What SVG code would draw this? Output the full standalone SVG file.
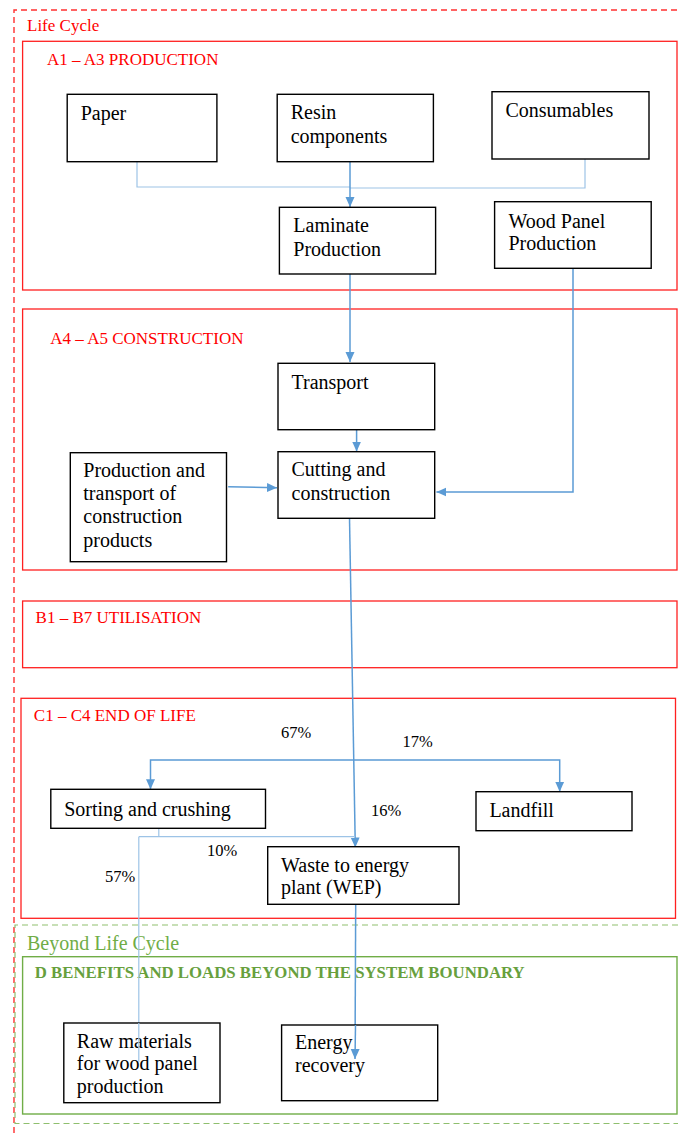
<svg xmlns="http://www.w3.org/2000/svg" width="678" height="1133" viewBox="0 0 678 1133">
<defs>
<marker id="ah" markerUnits="userSpaceOnUse" markerWidth="10" markerHeight="10" viewBox="0 0 10 10" refX="10" refY="5" orient="auto">
<path d="M0,0.5 L10,5 L0,9.5 Z" fill="#5B9BD5"/>
</marker>
<style>
.box{fill:#fff;stroke:#000;stroke-width:1.4}
.t{font-family:"Liberation Serif","Times New Roman",serif;font-size:20px;fill:#000}
.p{font-family:"Liberation Serif","Times New Roman",serif;font-size:16.5px;fill:#000}
.rl{font-family:"Liberation Serif","Times New Roman",serif;font-size:17px;fill:#FF0000}
.stage{fill:none;stroke:#FF2020;stroke-width:1.3}
.c{fill:none;stroke:#5B9BD5;stroke-width:1.5}
.cl{fill:none;stroke:#9DC3E6;stroke-width:1.2}
.ca{fill:none;stroke:#5B9BD5;stroke-width:1.5;marker-end:url(#ah)}
</style>
</defs>
<rect width="678" height="1133" fill="#fff"/>

<g id="lifecycle">
<path d="M14,1133 V10 H678" fill="none" stroke="#FF3030" stroke-width="1.4" stroke-dasharray="6,4"/>
<text x="27" y="31" class="rl" font-size="16.2">Life Cycle</text>
</g>

<g id="beyond">
<path d="M678,925 H15 V1123.5 H678" fill="none" stroke="#8FBF6E" stroke-width="1.2" stroke-dasharray="6,4"/>
<text x="27" y="949.5" font-family="Liberation Serif, serif" font-size="20" fill="#70AD47">Beyond Life Cycle</text>
</g>

<g id="stage-a1a3">
<rect x="22.6" y="41.3" width="654.4" height="248.7" class="stage"/>
<text x="47" y="65" class="rl">A1 – A3 PRODUCTION</text>
</g>
<g id="stage-a4a5">
<rect x="22.6" y="309" width="654.4" height="261" class="stage"/>
<text x="50.3" y="344" class="rl">A4 – A5 CONSTRUCTION</text>
</g>
<g id="stage-b1b7">
<rect x="22.6" y="601" width="654.4" height="66.7" class="stage"/>
<text x="35.6" y="623.3" class="rl">B1 – B7 UTILISATION</text>
</g>
<g id="stage-c1c4">
<rect x="21" y="698.3" width="654.5" height="220" class="stage"/>
<text x="33.8" y="721" class="rl">C1 – C4 END OF LIFE</text>
</g>
<g id="stage-d">
<rect x="22.6" y="956.7" width="654.4" height="157.3" fill="none" stroke="#70AD47" stroke-width="1.4"/>
<text x="34.7" y="978.3" font-family="Liberation Serif, serif" font-size="16.8" font-weight="bold" fill="#67A03D">D BENEFITS AND LOADS BEYOND THE SYSTEM BOUNDARY</text>
</g>

<g id="connectors">
<path d="M137,162 V187 H350" class="cl"/>
<path d="M585,159 V188 H350" class="cl"/>
<path d="M350,162 V207" class="ca"/>
<path d="M350,274 V362" class="ca"/>
<path d="M573,268 V492 H436.4" class="ca"/>
<path d="M356.6,430 V451.5" class="ca"/>
<path d="M228.2,486.7 L277,487.7" class="ca"/>
<path d="M349.5,518 L355.3,847.5" class="ca"/>
<path d="M353.6,760 H150.5 V789.3" class="ca"/>
<path d="M353.6,760 H559.7 V791.7" class="ca"/>
<path d="M158.8,828.3 V836.7" class="cl"/>
<path d="M138.8,836.7 H355" class="cl"/>
<path d="M138.8,836.7 V1062" class="cl"/>
<path d="M355.7,904.3 L355,1059" class="ca"/>
</g>

<g id="labels">
<text x="281" y="738.3" class="p">67%</text>
<text x="402.6" y="746.7" class="p">17%</text>
<text x="371" y="815.7" class="p">16%</text>
<text x="207" y="855.7" class="p">10%</text>
<text x="105" y="881.7" class="p">57%</text>
</g>

<g id="paper">
<rect x="67.2" y="94.3" width="149.7" height="67.4" class="box"/>
<text x="80.7" y="120" class="t">Paper</text>
</g>
<g id="resin">
<rect x="277.2" y="94.3" width="156.2" height="67.4" class="box"/>
<text class="t"><tspan x="290.7" y="119">Resin</tspan><tspan x="290.7" y="142.7">components</tspan></text>
</g>
<g id="consumables">
<rect x="492" y="91.7" width="157" height="67.3" class="box"/>
<text x="505.4" y="117.3" class="t">Consumables</text>
</g>
<g id="laminate">
<rect x="279.4" y="207.3" width="156.2" height="66.7" class="box"/>
<text class="t"><tspan x="293.3" y="232.3">Laminate</tspan><tspan x="293.3" y="256">Production</tspan></text>
</g>
<g id="woodpanel">
<rect x="494.6" y="201.7" width="156.6" height="66.6" class="box"/>
<text class="t"><tspan x="508.5" y="227.7">Wood Panel</tspan><tspan x="508.5" y="250.3">Production</tspan></text>
</g>
<g id="transport">
<rect x="278" y="363.3" width="156.7" height="66.4" class="box"/>
<text x="291.5" y="389" class="t">Transport</text>
</g>
<g id="cutting">
<rect x="278" y="451.7" width="156.7" height="66.6" class="box"/>
<text class="t"><tspan x="291.5" y="475.7">Cutting and</tspan><tspan x="291.5" y="499.7">construction</tspan></text>
</g>
<g id="constructionproducts">
<rect x="70.3" y="452.7" width="156.2" height="109" class="box"/>
<text class="t"><tspan x="83.3" y="477.3">Production and</tspan><tspan x="83.3" y="500.3">transport of</tspan><tspan x="83.3" y="523.3">construction</tspan><tspan x="83.3" y="546.7">products</tspan></text>
</g>
<g id="sorting">
<rect x="50.8" y="789.3" width="214.7" height="39" class="box"/>
<text x="64.2" y="815.7" class="t">Sorting and crushing</text>
</g>
<g id="landfill">
<rect x="476" y="791.7" width="156" height="39" class="box"/>
<text x="489.4" y="817.3" class="t">Landfill</text>
</g>
<g id="wep">
<rect x="267.7" y="846.7" width="191.3" height="57.6" class="box"/>
<text class="t"><tspan x="281" y="871.7">Waste to energy</tspan><tspan x="281" y="894">plant (WEP)</tspan></text>
</g>
<g id="rawmaterials">
<rect x="63.8" y="1023" width="156.2" height="79.7" class="box"/>
<text class="t"><tspan x="76.8" y="1047.7">Raw materials</tspan><tspan x="76.8" y="1070">for wood panel</tspan><tspan x="76.8" y="1093">production</tspan></text>
</g>
<g id="energy">
<rect x="281.6" y="1025" width="156.1" height="75.7" class="box"/>
<text class="t"><tspan x="295" y="1049.3">Energy</tspan><tspan x="295" y="1072.3">recovery</tspan></text>
</g>

<g id="overlay">
<path d="M138.8,1023 V1062" class="cl"/>
<path d="M355.5,1025 L355,1059" class="ca"/>
</g>
</svg>
